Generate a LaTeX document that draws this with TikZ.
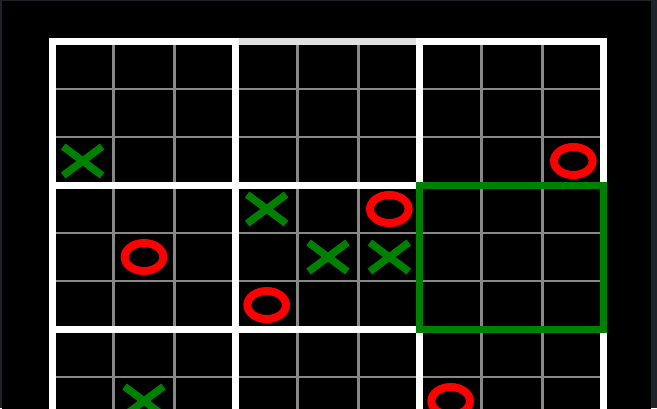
\documentclass[tikz,border=0pt]{standalone}
\definecolor{framegrey}{RGB}{32,35,40}
\definecolor{cellline}{RGB}{136,136,136}
\definecolor{topline}{RGB}{224,224,224}
\definecolor{markgreen}{RGB}{0,128,0}
\begin{document}
\begin{tikzpicture}[x = 61.33pt, y = -48pt,
		cellgrid/.style  = {draw = cellline, line width = 2.5pt},
		boardline/.style = {draw = white, line width = 7pt, line cap = rect},
		xmark/.style     = {draw = markgreen, line width = 7.5pt},
		omark/.style     = {draw = red, line width = 8pt}]
	      \useasboundingbox (-0.8479,-0.8542) rectangle (9.8646,7.6458);
	      \clip (-0.8479,-0.8542) rectangle (9.8646,7.6458);
	      \fill [framegrey] (-0.8479,-0.8542) rectangle (9.8646,7.6458);
	      \fill [black] (-0.8153,-0.8333) rectangle (9.767,8);

	      % small cells
	      \foreach \i in {1,2,4,5,7,8}{
			      \draw [cellgrid] (\i,0)--(\i,9);
			      \draw [cellgrid] (0,\i)--(9,\i);
		      }

	      % big boards
	      \foreach \i in {3,6,9}{
			      \draw [boardline] (0,\i)--(9,\i);
		      }
	      \draw [boardline] (0,0)--(3,0);
	      \draw [boardline] (6,0)--(9,0);
	      \draw [draw = topline, line width = 7pt] (3,0)--(6,0);
	      \foreach \i in {0,3,6,9}{
			      \draw [boardline] (\i,0)--(\i,9);
		      }

	      % next board
	      \draw [draw = markgreen, line width = 7pt] (6,3) rectangle (9,6);

	      % moves
	      \foreach \c/\r in {1/3,4/4,5/5,6/5,2/8}{
			      \draw [xmark] (\c-0.5,\r-0.5) ++(-0.318,-0.302) --++(0.636,0.604) ++(-0.636,0) --++(0.636,-0.604);
		      }
	      \foreach \c/\r in {9/3,6/4,2/5,4/6,7/8}{
			      \draw [omark] (\c-0.5,\r-0.5) ellipse [x radius = 19.3pt, y radius = 14pt];
		      }
      \end{tikzpicture}
\end{document}
